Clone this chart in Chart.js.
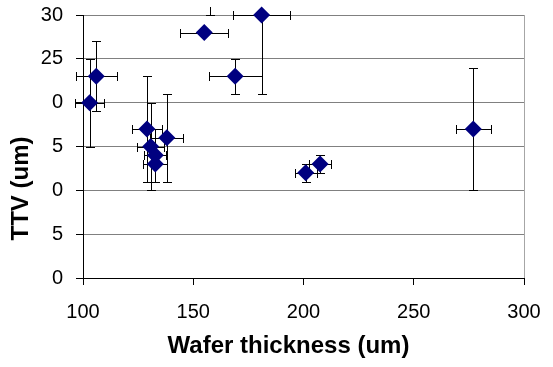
<!DOCTYPE html>
<html lang="en">
<head>
<meta charset="UTF-8">
<title>TTV vs wafer thickness</title>
<script src="https://cdn.jsdelivr.net/npm/chart.js@4/dist/chart.umd.min.js"></script>
<style>
  body { margin: 0; background: #fff; }
  #wrap { width: 553px; height: 367px; }
</style>
</head>
<body>
<div id="wrap"><canvas id="ttvChart" width="553" height="367"></canvas></div>
<script>
  // values (um)
  const thickness    = [103, 106, 129, 138, 130.7, 132.8, 132.8, 155, 181, 169, 201, 207.5, 277, 157.5];
  const ttv          = [20,  23,  17,  16,  15,    14,    13,    28,  30,  23,  12,  13,    17,  33.5];
  const thicknessErr = [6.7, 9.3, 7,   7.5, 6,     5,     5.5,   10.8, 12.9, 12, 5,   5,     8,   0];
  const ttvErrUp     = [5,   4,   6,   5,   5,     3,     2,     0,   0,   2,   1,   1,     7,   3.5];
  const ttvErrDown   = [5,   4,   6,   5,   5,     3,     2,     0,   9,   2,   1,   1,     7,   3.5];

  const xMin = 100, xMax = 300, xStep = 50;
  const yMin = 0, yMax = 30, yStep = 5;
  const yTickLabels = ["0", "5", "0", "5", "0", "25", "30"];

  const FONT = "'Liberation Sans', Arial, sans-serif";

  const crisp = (v) => Math.round(v) + 0.5;

  // error bars, drawn behind the markers
  const errorBars = {
    id: "errorBars",
    beforeDatasetsDraw(chart) {
      const { ctx, scales: { x, y } } = chart;
      const cap = 4.5;
      ctx.save();
      ctx.beginPath();
      ctx.rect(0, 7, chart.width, chart.height);
      ctx.clip();
      ctx.strokeStyle = "#000";
      ctx.lineWidth = 1;
      thickness.forEach((t, i) => {
        const px = crisp(x.getPixelForValue(t));
        const py = crisp(y.getPixelForValue(ttv[i]));
        ctx.beginPath();
        if (thicknessErr[i]) {
          const l = crisp(x.getPixelForValue(t - thicknessErr[i]));
          const r = crisp(x.getPixelForValue(t + thicknessErr[i]));
          ctx.moveTo(l, py); ctx.lineTo(r, py);
          ctx.moveTo(l, py - cap); ctx.lineTo(l, py + cap);
          ctx.moveTo(r, py - cap); ctx.lineTo(r, py + cap);
        }
        if (ttvErrUp[i]) {
          const top = crisp(y.getPixelForValue(ttv[i] + ttvErrUp[i]));
          ctx.moveTo(px, py); ctx.lineTo(px, top);
          ctx.moveTo(px - cap, top); ctx.lineTo(px + cap, top);
        }
        if (ttvErrDown[i]) {
          const bot = crisp(y.getPixelForValue(ttv[i] - ttvErrDown[i]));
          ctx.moveTo(px, py); ctx.lineTo(px, bot);
          ctx.moveTo(px - cap, bot); ctx.lineTo(px + cap, bot);
        }
        ctx.stroke();
      });
      ctx.restore();
    }
  };

  // axis titles sit where the original put them, not centred on the plot
  const axisTitles = {
    id: "axisTitles",
    afterDraw(chart) {
      const { ctx, chartArea } = chart;
      ctx.save();
      ctx.fillStyle = "#000";
      ctx.font = "bold 24px " + FONT;
      ctx.textAlign = "center";
      ctx.textBaseline = "middle";
      ctx.fillText("Wafer thickness (um)", (chartArea.left + chartArea.right) / 2 - 15, chartArea.bottom + 68);
      ctx.translate(21, (chartArea.top + chartArea.bottom) / 2 + 42);
      ctx.rotate(-Math.PI / 2);
      ctx.fillText("TTV (um)", 0, 0);
      ctx.restore();
    }
  };

  new Chart(document.getElementById("ttvChart"), {
    type: "scatter",
    data: {
      datasets: [{
        data: thickness.map((t, i) => ({ x: t, y: ttv[i] })),
        pointStyle: "rectRot",
        pointRadius: 8.5,
        pointHoverRadius: 8.5,
        backgroundColor: "#000080",
        borderColor: "#000080",
        borderWidth: 0,
        clip: false
      }]
    },
    options: {
      responsive: false,
      animation: false,
      events: [],
      layout: { padding: { top: 15, right: 29, left: 0, bottom: 0 } },
      plugins: { legend: { display: false }, tooltip: { enabled: false } },
      scales: {
        x: {
          type: "linear",
          min: xMin, max: xMax,
          ticks: { stepSize: xStep, color: "#000", font: { family: FONT, size: 20 }, padding: 15, maxRotation: 0 },
          grid: {
            color: (c) => (c.tick && c.tick.value === xMax ? "#a6a6a6" : "rgba(0,0,0,0)"),
            tickColor: "#000",
            tickLength: 7
          },
          border: { color: "#000" },
          afterFit(scale) {
            scale.height = 89;
            scale.paddingLeft = 0;
            scale.paddingRight = 0;
          }
        },
        y: {
          min: yMin, max: yMax,
          ticks: {
            stepSize: yStep, color: "#000", font: { family: FONT, size: 20 }, padding: 13,
            callback: (v, i) => yTickLabels[i]
          },
          grid: {
            color: (c) => (c.tick && c.tick.value === yMin ? "rgba(0,0,0,0)" : "#808080"),
            tickColor: "#000",
            tickLength: 7
          },
          border: { color: "#000" },
          afterFit(scale) {
            scale.width = 83;
            scale.paddingTop = 0;
            scale.paddingBottom = 0;
          }
        }
      }
    },
    plugins: [errorBars, axisTitles]
  });
</script>
</body>
</html>
